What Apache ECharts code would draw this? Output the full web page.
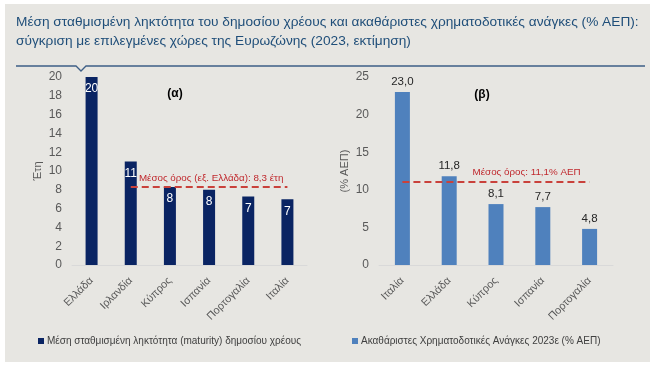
<!DOCTYPE html>
<html><head><meta charset="utf-8">
<script src="https://cdn.jsdelivr.net/npm/echarts@6/dist/echarts.min.js"></script>
<style>html,body{margin:0;padding:0;background:#fff}#c{width:658px;height:368px}</style>
</head><body><div id="c"></div>
<script>
const titleLines = ['Μέση σταθμισμένη ληκτότητα του δημοσίου χρέους και ακαθάριστες χρηματοδοτικές ανάγκες (% ΑΕΠ):',
  'σύγκριση με επιλεγμένες χώρες της Ευρωζώνης (2023, εκτίμηση)'];
const catsA = ['Ελλάδα','Ιρλανδία','Κύπρος','Ισπανία','Πορτογαλία','Ιταλία'];
const valsA = [20, 11, 8.3, 8.0, 7.3, 7.0];
const meanA = 8.3;
const catsB = ['Ιταλία','Ελλάδα','Κύπρος','Ισπανία','Πορτογαλία'];
const valsB = [23.0, 11.8, 8.1, 7.7, 4.8];
const meanB = 11.1;
const ticksA = {min:0, max:20, interval:2};
const ticksB = {min:0, max:25, interval:5};
const nameA = 'Μέση σταθμισμένη ληκτότητα (maturity) δημοσίου χρέους';
const nameB = 'Ακαθάριστες Χρηματοδοτικές Ανάγκες 2023ε (% ΑΕΠ)';

const FF = '"Liberation Sans", Arial, sans-serif';
const gray = '#595959';
const chart = echarts.init(document.getElementById('c'));
const catAxis = (idx, cats) => ({
  type:'category', gridIndex:idx, data:cats,
  axisLine:{lineStyle:{color:'#d9d9d9', width:1}}, axisTick:{show:false},
  axisLabel:{rotate:45, color:gray, fontSize:10.8, fontFamily:FF, margin:14, interval:0}
});
const valAxis = (idx, t, name) => ({
  type:'value', gridIndex:idx, min:t.min, max:t.max, interval:t.interval,
  name:name, nameLocation:'middle', nameGap:29, nameRotate:90,
  nameTextStyle:{color:gray, fontSize:11, fontFamily:FF},
  axisLine:{show:false}, axisTick:{show:false}, splitLine:{show:false},
  axisLabel:{color:gray, fontSize:12, fontFamily:FF, margin:10}
});
const mark = (from, to, val, text, dx) => ({
  silent:true, symbol:['none','none'],
  lineStyle:{type:[7,4], color:'#c9413b', width:2.2},
  label:{show:true, position:'insideEndTop', formatter:text, color:'#c0282d', fontSize:9.8, fontFamily:FF, distance:[dx,4]},
  data:[[{coord:[from, val]},{coord:[to, val]}]]
});
chart.setOption({
  backgroundColor:'#ffffff',
  animation:false,
  graphic:[
    {type:'rect', shape:{x:5,y:4,width:645,height:358}, style:{fill:'#e7e6e2'}, z:-10},
    {type:'text', left:16, top:13, style:{text:titleLines.join('\n'), fill:'#1f4e79', fontSize:13.7, fontFamily:FF, lineHeight:19}},
    {type:'polyline', shape:{points:[[16,66],[76,66],[81,71],[86,66],[645,66]]}, style:{stroke:'#3e5f86', lineWidth:1.3, fill:null}},
    {type:'text', x:175, y:94, style:{text:'(α)', fill:'#000', fontSize:12, fontWeight:'bold', fontFamily:FF, align:'center', verticalAlign:'middle'}},
    {type:'text', x:482, y:95, style:{text:'(β)', fill:'#000', fontSize:12, fontWeight:'bold', fontFamily:FF, align:'center', verticalAlign:'middle'}}
  ],
  legend:[
    {left:33, top:331, data:[nameA], icon:'rect', itemWidth:6, itemHeight:6, itemGap:4,
     textStyle:{color:'#404040', fontSize:10, fontFamily:FF, padding:[0,0,0,-2]}},
    {left:347, top:331, data:[nameB], icon:'rect', itemWidth:6, itemHeight:6, itemGap:4,
     textStyle:{color:'#404040', fontSize:10, fontFamily:FF, padding:[0,0,0,-2]}}
  ],
  grid:[
    {left:72, right:351, top:77, bottom:103},
    {left:379, right:45, top:77, bottom:103}
  ],
  xAxis:[catAxis(0, catsA), catAxis(1, catsB)],
  yAxis:[valAxis(0, ticksA, 'Έτη'), valAxis(1, ticksB, '(% ΑΕΠ)')],
  series:[
    {name:nameA, type:'bar', xAxisIndex:0, yAxisIndex:0, data:valsA, barWidth:12,
     itemStyle:{color:'#0a2463'},
     label:{show:true, position:'insideTop', distance:6, color:'#fff', fontSize:12, fontFamily:FF,
       formatter:p=>String(Math.round(p.value))},
     markLine:mark(catsA[1], catsA[5], meanA, 'Μέσος όρος (εξ. Ελλάδα): ' + meanA.toFixed(1).replace('.',',') + ' έτη', 4)},
    {name:nameB, type:'bar', xAxisIndex:1, yAxisIndex:1, data:valsB, barWidth:15,
     itemStyle:{color:'#4f81bd'},
     label:{show:true, position:'top', distance:4, color:'#262626', fontSize:11.5, fontFamily:FF,
       formatter:p=>p.value.toFixed(1).replace('.',',')},
     markLine:mark(catsB[0], catsB[4], meanB, 'Μέσος όρος: ' + meanB.toFixed(1).replace('.',',') + '% ΑΕΠ', 9)}
  ]
});
</script></body></html>
